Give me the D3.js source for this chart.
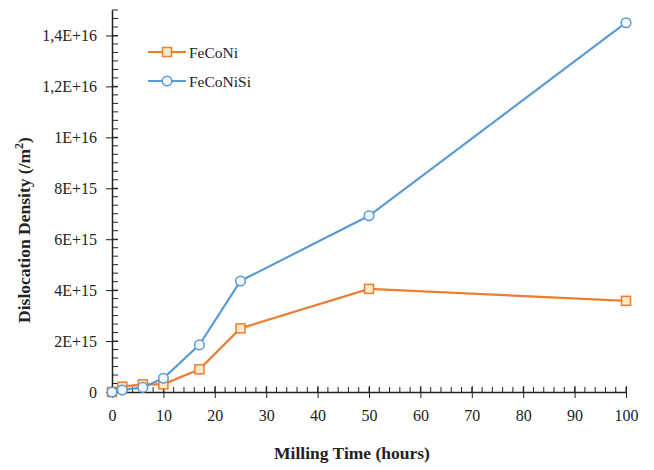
<!DOCTYPE html>
<html>
<head>
<meta charset="utf-8">
<script src="https://cdn.jsdelivr.net/npm/d3@7"></script>
<style>
  body { margin: 0; background: #fff; }
  text { font-family: "Liberation Serif", "Times New Roman", serif; fill: #222; }
</style>
</head>
<body>
<div id="chart"></div>
<script>
// milling times (hours)
var hours = [0, 2, 6, 10, 17, 25, 50, 100];
// dislocation density (/m^2)
var feconi = [0, 2.1e14, 3.0e14, 3.0e14, 8.9e14, 2.5e15, 4.05e15, 3.58e15];
var feconisi = [0, 8e13, 1.8e14, 5.4e14, 1.85e15, 4.36e15, 6.92e15, 1.45e16];
var seriesNames = ["FeCoNi", "FeCoNiSi"];
var yTickLabels = ["0", "2E+15", "4E+15", "6E+15", "8E+15", "1E+16", "1,2E+16", "1,4E+16"];
var xTickValues = [0, 10, 20, 30, 40, 50, 60, 70, 80, 90, 100];

var W = 654, H = 470;
var margin = { top: 10, right: 28, bottom: 78, left: 112 };
var width = W - margin.left - margin.right,
    height = H - margin.top - margin.bottom;

var svg = d3.select("#chart").append("svg")
    .attr("width", W).attr("height", H);
var g = svg.append("g")
    .attr("transform", "translate(" + margin.left + "," + margin.top + ")");

var xScale = d3.scaleLinear().domain([0, 100]).range([0, 514]);
var yScale = d3.scaleLinear().domain([0, 1.5e16]).range([height, 0]);

var colors = ["#ED7D31", "#5B9BD5"];

// minor ticks
var xMinor = d3.range(0, 101, 2);
var yMinor = d3.range(0, 15.01, 1 / 3).map(function (d) { return d * 1e15; });

g.selectAll(".xminor").data(xMinor).enter().append("line")
    .attr("x1", function (d) { return xScale(d); })
    .attr("x2", function (d) { return xScale(d); })
    .attr("y1", height).attr("y2", height - 5)
    .attr("stroke", "#222").attr("stroke-width", 1);

g.selectAll(".yminor").data(yMinor).enter().append("line")
    .attr("x1", 0).attr("x2", 6)
    .attr("y1", function (d) { return yScale(d); })
    .attr("y2", function (d) { return yScale(d); })
    .attr("stroke", "#222").attr("stroke-width", 1);

// x axis
var xAxis = g.append("g")
    .attr("transform", "translate(0," + height + ")")
    .call(d3.axisBottom(xScale).tickValues(xTickValues).tickSizeInner(6).tickSizeOuter(0).tickPadding(12));
xAxis.selectAll(".tick line").attr("y1", -6).attr("stroke", "#222");
xAxis.select(".domain").attr("stroke", "#222").attr("stroke-width", 1.5);
xAxis.selectAll(".tick text")
    .style("font-family", "Liberation Serif, serif").style("font-size", "16px").attr("fill", "#333");

// y axis
var yAxis = g.append("g")
    .call(d3.axisLeft(yScale)
        .tickValues(d3.range(0, 8).map(function (i) { return i * 2e15; }))
        .tickFormat(function (d, i) { return yTickLabels[i]; })
        .tickSizeInner(6).tickSizeOuter(0).tickPadding(9));
yAxis.selectAll(".tick line").attr("x1", 6).attr("stroke", "#222");
yAxis.select(".domain").attr("stroke", "#222").attr("stroke-width", 1.5);
yAxis.selectAll(".tick text")
    .style("font-family", "Liberation Serif, serif").style("font-size", "16px").attr("fill", "#333");

// lines and markers
var series = [feconi, feconisi];
var lineGen = d3.line()
    .x(function (d, i) { return xScale(hours[i]); })
    .y(function (d) { return yScale(d); });

series.forEach(function (s, k) {
    g.append("path")
        .datum(s)
        .attr("fill", "none")
        .attr("stroke", colors[k])
        .attr("stroke-width", 2.2)
        .attr("d", lineGen);
});

// squares for FeCoNi
g.selectAll(".sq").data(feconi).enter().append("rect")
    .attr("x", function (d, i) { return xScale(hours[i]) - 4.5; })
    .attr("y", function (d) { return yScale(d) - 4.5; })
    .attr("width", 9).attr("height", 9)
    .attr("fill", "#FDEBC8").attr("stroke", colors[0]).attr("stroke-width", 1.5);

// circles for FeCoNiSi
g.selectAll(".ci").data(feconisi).enter().append("circle")
    .attr("cx", function (d, i) { return xScale(hours[i]); })
    .attr("cy", function (d) { return yScale(d); })
    .attr("r", 4.8)
    .attr("fill", "#F4F8FC").attr("stroke", colors[1]).attr("stroke-width", 1.5);

// legend
var legend = svg.append("g").attr("transform", "translate(148,52)");
seriesNames.forEach(function (name, k) {
    var row = legend.append("g").attr("transform", "translate(0," + (k * 29) + ")");
    row.append("line").attr("x1", 0).attr("x2", 38).attr("y1", 0).attr("y2", 0)
        .attr("stroke", colors[k]).attr("stroke-width", 2.2);
    if (k === 0) {
        row.append("rect").attr("x", 14.5).attr("y", -4.5).attr("width", 9).attr("height", 9)
            .attr("fill", "#FDEBC8").attr("stroke", colors[0]).attr("stroke-width", 1.5);
    } else {
        row.append("circle").attr("cx", 19).attr("cy", 0).attr("r", 4.8)
            .attr("fill", "#F4F8FC").attr("stroke", colors[1]).attr("stroke-width", 1.5);
    }
    row.append("text").attr("x", 41).attr("y", 5.5)
        .style("font-size", "15.5px").text(name);
});

// axis titles
svg.append("text")
    .attr("x", 352).attr("y", 459)
    .attr("text-anchor", "middle")
    .style("font-size", "17.5px").style("font-weight", "bold")
    .text("Milling Time (hours)");

var yt = svg.append("text")
    .attr("transform", "translate(30,230) rotate(-90)")
    .attr("text-anchor", "middle")
    .style("font-size", "17.5px").style("font-weight", "bold");
yt.append("tspan").text("Dislocation Density (/m");
yt.append("tspan").attr("dy", -7).style("font-size", "12px").text("2");
yt.append("tspan").attr("dy", 7).text(")");
</script>
</body>
</html>
